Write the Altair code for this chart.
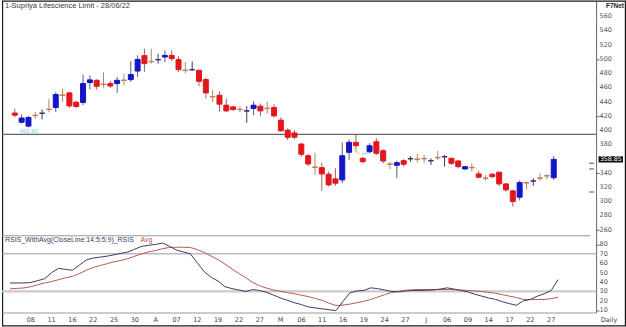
import json
import altair as alt
import pandas as pd

# ---------------- data ----------------
opens = [424, 411, 405.6, 421, 423.4, 429.4, 431.8, 449.5, 452.3, 439.2,
         438.8, 466.8, 470, 464.8, 465.4, 465.4, 470.4, 471, 483, 504.6,
         496.6, 498.6, 502.7, 505, 499, 484.4, 484.6, 484, 471, 447.1,
         449, 435, 432.6, 429.4, 426.6, 430.4, 433.6, 430.8, 431.8, 414,
         400, 396, 380.4, 364, 348.2, 347.2, 338, 331.4, 330, 368.8,
         382.8, 360.4, 369.6, 383.6, 371, 352.4, 350.6, 357, 359.4, 359.4,
         360.2, 356.6, 361.6, 362.2, 360.4, 356.6, 345.4, 347.6, 338.4, 332.8,
         338, 340.8, 324.4, 314.6, 305.7, 326.2, 328.2, 332.8, 336, 333]
highs = [430, 422, 419.6, 425.6, 429, 443.4, 453.2, 458.4, 453.7, 441,
         478, 477, 471.4, 481.2, 469, 474.7, 479.4, 497, 505, 514.4,
         514.4, 507.4, 512, 512, 503.6, 495.7, 496.6, 484.5, 473.8, 456,
         454.6, 444.4, 434, 433.6, 433.6, 440.6, 437.4, 439.7, 436.4, 417.8,
         402.4, 400, 382, 366.4, 368, 354.2, 341.6, 346.4, 382.8, 387,
         394.4, 362.6, 381.4, 388.4, 373, 355.6, 356.6, 359, 363.6, 366.4,
         365, 360.4, 371, 365, 361.2, 358, 349.6, 353.4, 342.6, 337,
         339.4, 341.6, 325.4, 316, 329, 327.6, 332.4, 339.4, 338, 363.6]
lows = [418, 409.4, 403.9, 416.4, 415, 424.8, 425.6, 439.7, 431.2, 431,
        435, 457.4, 457, 459.8, 459, 452.3, 463, 467.7, 474.7, 481.7,
        493.4, 493.4, 495.7, 497, 481.7, 480, 483, 461.6, 444.4, 439.7,
        425.6, 425.6, 427, 425.2, 410.2, 421, 419.6, 423.4, 417.8, 397.6,
        386, 387, 362.6, 349.6, 337, 315, 320.6, 321.6, 325.4, 358,
        368.8, 353.4, 367.4, 365, 353.4, 345, 332.4, 348.6, 355.6, 354.2,
        354.2, 351, 358, 348.6, 351, 346.4, 344, 341.6, 332.4, 329,
        332.4, 321.6, 313.6, 292.6, 301, 317, 321.6, 328.6, 331, 330]
closes = [421, 417, 417.8, 420.2, 424, 428.8, 450, 448.8, 434, 433.2,
          465.4, 470.6, 461.6, 464, 462, 470, 469.8, 478, 499.4, 493.4,
          496, 499.2, 505, 500.4, 485, 483.8, 485.2, 468.6, 452.2, 446.5,
          436.4, 427, 429, 428.8, 427.2, 435, 427, 430.2, 420, 399,
          389.8, 390, 366, 352.4, 347.6, 338.4, 323, 325.4, 364, 382.8,
          378, 355.6, 378, 367.4, 356.6, 351.8, 354.2, 352, 360, 358.8,
          359.6, 357.2, 361, 362.8, 353.4, 348.6, 348.6, 347, 333.8, 332.2,
          334.6, 324.4, 316, 299.6, 326.2, 325.6, 328.8, 332.2, 335.4, 358.85]

rsi = [39, 39, 39, 39.5, 41.5, 43.5, 50, 54.5, 53.5, 52.5,
       58, 63.5, 65.5, 66.5, 67.5, 69, 70.5, 72, 75, 78,
       79, 80, 81.5, 78, 74, 72, 70, 60.5, 51, 45,
       41, 35, 33, 31.5, 30, 32, 31, 29, 26, 23,
       20.5, 18, 16, 13.5, 12.5, 11.5, 10.5, 9.7, 19.5, 28.5,
       30.5, 31, 33.8, 33, 31.5, 30, 29.5, 30.5, 31, 31,
       31.2, 31.5, 32.5, 33.8, 32.5, 31, 29.5, 27, 25, 23,
       21.5, 19, 17, 15.3, 20, 21.5, 24.9, 27.5, 31, 42.6]
rsi_avg = [32.7, 33.2, 33.7, 35, 37, 39, 40.5, 42.5, 44.5, 46,
           49, 52.5, 55.5, 57.5, 59.5, 61.5, 63, 64.8, 67.5, 70,
           72, 73.5, 75.5, 76.8, 77, 77, 76.8, 74.5, 71.5, 67.5,
           63.8, 59, 54, 49, 44.5, 39.5, 36, 33.5, 31.5, 30.1,
           28.8, 27.5, 26, 24.5, 22.5, 20.5, 17.5, 15, 15.5, 16.5,
           18, 19.5, 21.5, 24, 26.5, 29, 30, 31.2, 31.8, 32,
           32, 32, 32, 32, 31.8, 31.5, 31, 30.6, 30, 29,
           28, 26.5, 25, 23.5, 21.5, 21.3, 21.3, 21.5, 22.3, 23.8]

x_tick_idx = [3, 6, 9, 12, 15, 18, 21, 24, 27, 30, 33, 36, 39, 42, 45, 48, 51,
              54, 57, 60, 63, 66, 69, 72, 75, 78]
x_tick_lab = ["08", "11", "16", "22", "25", "30", "A", "07", "12", "19", "22",
              "27", "M", "06", "11", "16", "19", "24", "27", "J", "06", "09",
              "14", "17", "22", "27"]
price_ticks = [260, 280, 300, 320, 340, 360, 380, 400, 420, 440, 460, 480,
               500, 520, 540, 560]
price_labels = [260, 280, 300, 320, 340, 380, 400, 420, 440, 460, 480,
                500, 520, 540, 560]  # 360 is covered by the last-price box
rsi_ticks = [10, 20, 30, 40, 50, 60, 70, 80]
level_line = [394]
side_marks = [353.4, 345.4, 313]
yellow_i, yellow_p = [49.6, 50.6], [374.4, 366.4]
cyan_i, cyan_p = [50.9, 51.9], [366.4, 368.2]
low_label_idx = 2
title = "1-Supriya Lifescience Limit - 28/06/22"
rsi_title = "RSIS_WithAvg(CloseLine:14:5:5:9)_RSIS"

# ---------------- tables ----------------
n = len(closes)
kinds = []
for o, c in zip(opens, closes):
    if abs(c - o) < 1.0:
        kinds.append("dup" if c > o else "ddn")
    else:
        kinds.append("up" if c > o else "down")
df = pd.DataFrame({"i": list(range(n)), "open": opens, "high": highs,
                   "low": lows, "close": closes, "kind": kinds,
                   "rsi": rsi, "avg": rsi_avg})

FONT = "Liberation Sans"
AXF = "DejaVu Sans"
W = 596
XDOM = [-1.15, 84.48]
xs = alt.Scale(domain=XDOM, nice=False, zero=False)
ys = alt.Scale(domain=[251.5, 582.1], nice=False, zero=False)
kdom = ["up", "down", "dup", "ddn"]
body_sc = alt.Scale(domain=kdom, range=["#1515c8", "#e3161c", "#3a3a70", "#b98460"])
wick_sc = alt.Scale(domain=kdom, range=["#5a5a8e", "#a06262", "#3a3a70", "#b98460"])


def yaxis(vals):
    return alt.Axis(orient="right", values=vals, title=None, grid=False,
                    labels=False, tickSize=3, tickColor="#666",
                    domainColor="#666")


def ylabels(vals, scale):
    return alt.Chart(pd.DataFrame({"v": vals})).mark_text(
        font=AXF, fontSize=6.5, color="#555", align="left",
        baseline="middle").encode(
        y=alt.Y("v:Q", scale=scale), x=alt.value(599.5), text="v:Q")


base = alt.Chart(df)

wicks = base.mark_rule(strokeWidth=1).encode(
    x=alt.X("i:Q", scale=xs, axis=None),
    y=alt.Y("low:Q", scale=ys, axis=yaxis(price_ticks)),
    y2="high:Q",
    color=alt.Color("kind:N", scale=wick_sc, legend=None),
)
bodies = base.mark_bar(size=5, strokeWidth=1).encode(
    x=alt.X("i:Q", scale=xs),
    y=alt.Y("open:Q", scale=ys),
    y2="close:Q",
    fill=alt.Fill("kind:N", scale=body_sc, legend=None),
    stroke=alt.Stroke("kind:N", scale=body_sc, legend=None),
)

level = alt.Chart(pd.DataFrame({"p": level_line})).mark_rule(
    color="#666", strokeWidth=1.3).encode(
    y=alt.Y("p:Q", scale=ys), x=alt.value(0), x2=alt.value(W))

marks = alt.Chart(pd.DataFrame({"p": side_marks})).mark_rule(
    color="#555", strokeWidth=1).encode(
    y=alt.Y("p:Q", scale=ys), x=alt.value(589), x2=alt.value(594))

yel = alt.Chart(pd.DataFrame({"i": yellow_i, "p": yellow_p})).mark_line(
    color="#f2e49a", strokeWidth=1.5).encode(
    x=alt.X("i:Q", scale=xs), y=alt.Y("p:Q", scale=ys))
cya = alt.Chart(pd.DataFrame({"i": cyan_i, "p": cyan_p})).mark_line(
    color="#a6e2ee", strokeWidth=1.5).encode(
    x=alt.X("i:Q", scale=xs), y=alt.Y("p:Q", scale=ys))

lowrow = df.iloc[[low_label_idx]].assign(lab=lambda d: d["low"].map(lambda v: f"{v:.2f}"))
lowlab = alt.Chart(lowrow).mark_text(
    font=FONT, fontSize=6, color="#7ccfe0", baseline="top", dy=0.5).encode(
    x=alt.X("i:Q", scale=xs), y=alt.Y("low:Q", scale=ys), text="lab:N")

last = closes[-1]
box_df = pd.DataFrame({"c": [last], "t": [last + 4.4], "b": [last - 4.4],
                       "lab": [f"{last:.2f}"]})
pbox = alt.Chart(box_df).mark_rect(color="#111").encode(
    y=alt.Y("t:Q", scale=ys), y2="b:Q", x=alt.value(598.5), x2=alt.value(623))
ptxt = alt.Chart(box_df).mark_text(
    font=AXF, fontSize=6.3, color="white", align="center", baseline="middle").encode(
    y=alt.Y("c:Q", scale=ys), x=alt.value(610.8), text="lab:N")

ttl = alt.Chart(pd.DataFrame({"t": [title]})).mark_text(
    font=FONT, fontSize=7.5, color="#3a3a3a", align="left", baseline="middle").encode(
    x=alt.value(3), y=alt.value(6), text="t:N")
f7 = alt.Chart(pd.DataFrame({"t": ["F7Net"]})).mark_text(
    font=FONT, fontSize=6.5, color="#222", fontWeight="bold", align="right",
    baseline="middle").encode(x=alt.value(624), y=alt.value(6), text="t:N")
frame = alt.Chart(pd.DataFrame({"t": [0]})).mark_rect(
    fill="transparent", stroke="#1a1a1a", strokeWidth=1.2).encode(
    x=alt.value(0.6), x2=alt.value(625.4), y=alt.value(0.6), y2=alt.value(326.4))

top = alt.layer(frame, level, wicks, bodies, yel, cya, marks, lowlab,
                ylabels(price_labels, ys), pbox, ptxt, ttl, f7).properties(
    width=W, height=236)

# ---------------- RSI panel ----------------
rs = alt.Scale(domain=[7.56, 89.2], nice=False, zero=False)

rsi_line = base.mark_line(color="#3b3b66", strokeWidth=1).encode(
    x=alt.X("i:Q", scale=xs, axis=alt.Axis(
        values=x_tick_idx, labels=False, title=None, grid=False,
        ticks=False, domainColor="#999")),
    y=alt.Y("rsi:Q", scale=rs, axis=yaxis(rsi_ticks)),
)
avg_line = base.mark_line(color="#b8574e", strokeWidth=1).encode(
    x=alt.X("i:Q", scale=xs), y=alt.Y("avg:Q", scale=rs))

xlabels = alt.Chart(pd.DataFrame({"i": x_tick_idx, "t": x_tick_lab})).mark_text(
    font=AXF, fontSize=6.5, color="#444", align="center", baseline="middle").encode(
    x=alt.X("i:Q", scale=xs), y=alt.value(84.5), text="t:N")

l70 = alt.Chart(pd.DataFrame({"v": [70]})).mark_rule(
    color="#9a9a9a", strokeWidth=1).encode(
    y=alt.Y("v:Q", scale=rs), x=alt.value(0), x2=alt.value(W))
l30 = alt.Chart(pd.DataFrame({"v": [30]})).mark_rule(
    color="#cbcbcb", strokeWidth=2.2).encode(
    y=alt.Y("v:Q", scale=rs), x=alt.value(0), x2=alt.value(W))
sep = alt.Chart(pd.DataFrame({"v": [0]})).mark_rule(
    color="#999", strokeWidth=1).encode(
    y=alt.value(0), x=alt.value(0), x2=alt.value(590))

rt1 = alt.Chart(pd.DataFrame({"t": [rsi_title]})).mark_text(
    font=FONT, fontSize=7, color="#3b3b66", align="left", baseline="middle").encode(
    x=alt.value(3), y=alt.value(4), text="t:N")
rt2 = alt.Chart(pd.DataFrame({"t": ["Avg"]})).mark_text(
    font=FONT, fontSize=7, color="#c0504a", align="left", baseline="middle").encode(
    x=alt.value(139), y=alt.value(4), text="t:N")
daily = alt.Chart(pd.DataFrame({"t": ["Daily"]})).mark_text(
    font=AXF, fontSize=6.5, color="#444", align="center", baseline="middle").encode(
    x=alt.value(609), y=alt.value(84.5), text="t:N")

bottom = alt.layer(sep, l30, l70, avg_line, rsi_line, xlabels,
                   ylabels(rsi_ticks, rs), rt1, rt2, daily).properties(
    width=W, height=77)

chart = alt.vconcat(top, bottom, spacing=0, bounds="flush").properties(
    padding=0, background="white"
).configure_view(strokeWidth=0)

chart.save("out.html", embed_options={"renderer": "svg", "actions": False})
